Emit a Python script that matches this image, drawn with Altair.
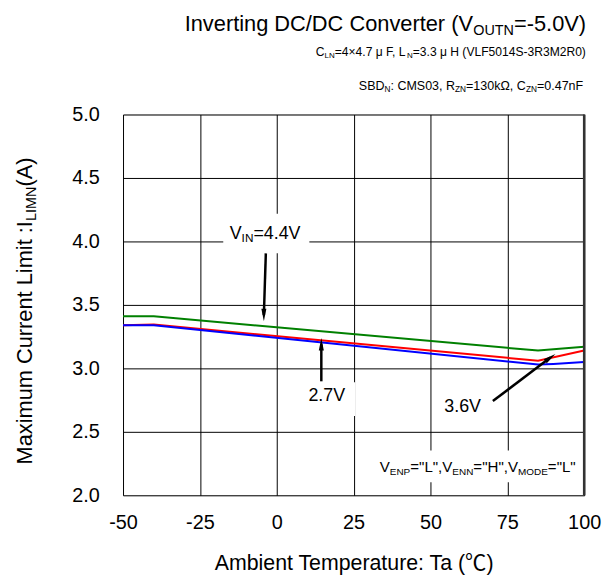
import altair as alt
import pandas as pd

FONT = "Liberation Sans, Noto Sans CJK JP"

# ---- data ----
temp_44 = [-50, -40, 85, 100]
curr_44 = [3.41, 3.41, 3.14, 3.17]
temp_36 = [-50, -40, 85, 100]
curr_36 = [3.34, 3.345, 3.06, 3.14]
temp_27 = [-50, -40, 85, 90, 100]
curr_27 = [3.34, 3.34, 3.03, 3.035, 3.05]
x_ticks = [-50, -25, 0, 25, 50, 75, 100]
y_ticks = [2.0, 2.5, 3.0, 3.5, 4.0, 4.5, 5.0]

W, H = 465, 384

# Arial / Liberation Sans advance widths (per 1000 em)
AW = {' ': 278, '!': 278, '"': 355, '(': 333, ')': 333, ',': 278, '-': 333, '.': 278,
      '/': 278, ':': 278, '=': 584, 'A': 667, 'B': 667, 'C': 722, 'D': 722, 'E': 667,
      'F': 611, 'G': 778, 'H': 722, 'I': 278, 'J': 500, 'K': 667, 'L': 556, 'M': 833,
      'N': 722, 'O': 778, 'P': 667, 'Q': 778, 'R': 722, 'S': 667, 'T': 611, 'U': 722,
      'V': 667, 'W': 944, 'X': 667, 'Y': 667, 'Z': 611, 'a': 556, 'b': 556, 'c': 500,
      'd': 556, 'e': 556, 'f': 278, 'g': 556, 'h': 556, 'i': 222, 'j': 222, 'k': 500,
      'l': 222, 'm': 833, 'n': 556, 'o': 556, 'p': 556, 'q': 556, 'r': 333, 's': 500,
      't': 278, 'u': 556, 'v': 500, 'w': 722, 'x': 500, 'y': 500, 'z': 500, '×': 584,
      'μ': 576, 'Ω': 768, '℃': 1000}


def tw(txt, size):
    return sum(AW.get(c, 556) for c in txt) / 1000.0 * size


def rich(parts, x, y, size, align="left", angle=0, sub=0.66, drop=0.17):
    sizes = [size * sub if s else size for _, s in parts]
    widths = [tw(t, s) for (t, _), s in zip(parts, sizes)]
    total = sum(widths)
    off = {"left": 0, "center": -total / 2, "right": -total}[align]
    layers = []
    for (t, is_sub), s, w in zip(parts, sizes, widths):
        layers.append(
            alt.Chart(pd.DataFrame({"t": [t]}))
            .mark_text(align="left", baseline="alphabetic", font=FONT, fontSize=s,
                       dx=off, dy=(size * drop if is_sub else 0), angle=angle, color="black")
            .encode(x=x, y=y, text="t:N")
        )
        off += w
    return layers


def one():
    return pd.DataFrame({"a": [0]})


xs = alt.Scale(domain=[-50, 100], nice=False, zero=False)
ys = alt.Scale(domain=[2, 5], nice=False, zero=False)

XTITLE = "Ambient Temperature: Ta (℃)"
xaxis = alt.Axis(values=x_ticks, title=XTITLE, labelFontSize=20, labelExpr="'' + datum.value",
                 labelFont=FONT, titleFont=FONT, titleFontSize=21.5, titleFontWeight="normal",
                 labelColor="black", titleColor="black", tickSize=0, labelPadding=17,
                 titlePadding=21, domain=False, grid=True, gridColor="black", gridWidth=1,
                 gridOpacity=1, labelFlush=False)
yaxis = alt.Axis(values=y_ticks, format=".1f", title=None, labelFontSize=20, labelFont=FONT,
                 labelColor="black", tickSize=0, labelPadding=24, domain=False, grid=True,
                 gridColor="black", gridWidth=1, gridOpacity=1, labelFlush=False)


def X(v):
    return alt.datum(v, scale=xs, axis=xaxis, title=XTITLE)


def Y(v):
    return alt.datum(v, scale=ys, axis=yaxis, title=None)


def series(t, c, color):
    df = pd.DataFrame({"T": t, "I": c})
    return alt.Chart(df).mark_line(color=color, strokeWidth=2).encode(
        x=alt.X("T:Q", scale=xs, axis=xaxis, title=XTITLE),
        y=alt.Y("I:Q", scale=ys, axis=yaxis, title=None),
    )


lines = [series(temp_44, curr_44, "#008000"),
         series(temp_36, curr_36, "#ff0000"),
         series(temp_27, curr_27, "#0000ff")]


def box(x1, x2, y1, y2):
    return alt.Chart(one()).mark_rect(fill="white").encode(
        x=X(x1), x2=alt.datum(x2), y=Y(y1), y2=alt.datum(y2))


def arrow(x1, y1, x2, y2, ang):
    r = alt.Chart(one()).mark_rule(color="black", strokeWidth=2.5).encode(
        x=X(x1), y=Y(y1), x2=alt.datum(x2), y2=alt.datum(y2))
    p = alt.Chart(one()).mark_point(shape="M0,-1L0.4,1L-0.4,1Z", filled=True, color="black",
                                    size=160, angle=ang, opacity=1).encode(
        x=X(x2), y=Y(y2))
    return [r, p]


boxes = [box(-17.4, 10.6, 4.219, 3.906), box(8.4, 25.5, 2.89, 2.625),
         box(31.9, 99.6, 2.352, 2.102)]

arrows = (arrow(-3.55, 3.906, -4.19, 3.42, 180) + arrow(14.5, 2.898, 14.5, 3.19, 0)
          + arrow(70.3, 2.742, 89.0, 3.085, 54))

right_edge = alt.Chart(one()).mark_rule(color="#333333", strokeWidth=2.5).encode(
    x=X(100), y=Y(5), y2=alt.datum(2))

ann = []
ann += rich([("V", False), ("IN", True), ("=4.4V", False)], X(-15.3), Y(4.02), 18)
ann += rich([("2.7V", False)], X(10.3), Y(2.742), 18)
ann += rich([("3.6V", False)], X(54.5), Y(2.656), 18)
ann += rich([("V", False), ("ENP", True), ('="L",V', False), ("ENN", True), ('="H",V', False),
             ("MODE", True), ('="L"', False)], X(33.5), Y(2.18), 15.2)

titles = []
titles += rich([("Inverting DC/DC Converter (V", False), ("OUTN", True), ("=-5.0V)", False)],
               alt.value(467), alt.value(-84), 22, align="right")
titles += rich([("C", False), ("LN", True), ("=4×4.7 μ F, L", False), ("N", True),
                ("=3.3 μ H (VLF5014S-3R3M2R0)", False)],
               alt.value(467), alt.value(-59), 12.2, align="right")
titles += rich([("SBD", False), ("N", True), (": CMS03, R", False), ("ZN", True),
                ("=130kΩ, C", False), ("ZN", True), ("=0.47nF", False)],
               alt.value(464), alt.value(-25), 12.6, align="right")
titles += rich([("Maximum Current Limit :I", False), ("LIMN", True), ("  (A)", False)],
               alt.value(-92), alt.value(192), 22, align="center", angle=270)

chart = alt.layer(*lines, *boxes, *arrows, right_edge, *ann, *titles).properties(
    width=W, height=H, autosize="none",
    padding={"left": 116, "top": 105, "right": 20, "bottom": 80},
).configure_view(stroke="black", strokeWidth=1).configure(background="white")

chart.save("out.html", embed_options={"renderer": "svg", "actions": False})
